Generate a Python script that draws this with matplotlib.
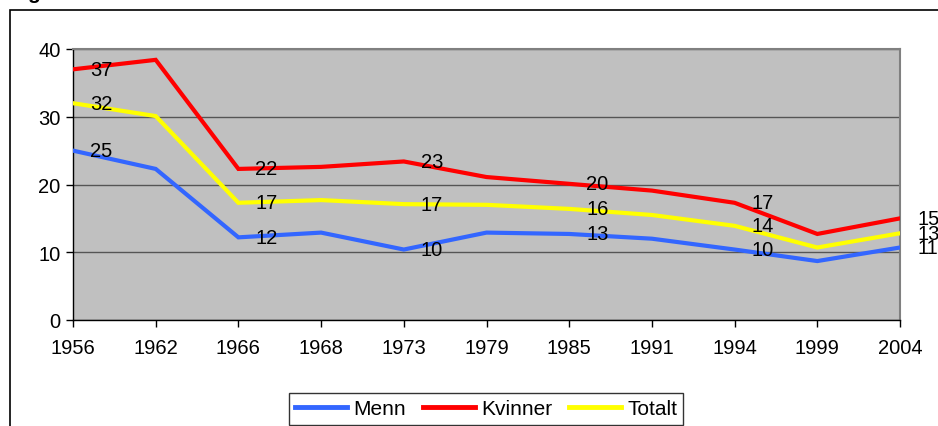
import matplotlib.pyplot as plt
from matplotlib.patches import Rectangle

plt.rcParams['font.family'] = ['Liberation Sans', 'DejaVu Sans']

years = ["1956", "1962", "1966", "1968", "1973", "1979", "1985", "1991", "1994", "1999", "2004"]
menn = [25.0, 22.3, 12.2, 12.9, 10.4, 12.9, 12.7, 12.0, 10.4, 8.7, 10.7]
kvinner = [37.0, 38.4, 22.3, 22.6, 23.4, 21.1, 20.1, 19.1, 17.3, 12.7, 15.0]
totalt = [32.0, 30.1, 17.3, 17.7, 17.1, 17.0, 16.4, 15.5, 13.9, 10.7, 12.8]

# indices of the points that carry a value label
label_idx = [0, 2, 4, 6, 8, 10]

W, H = 938, 427
fig = plt.figure(figsize=(W / 100, H / 100), dpi=100)
fig.patch.set_facecolor("white")

# outer chart border (cropped at right and bottom)
fig.patches.append(Rectangle((10 / W, -0.1), 1.2, 1 - 11 / H + 0.1,
                             transform=fig.transFigure, fill=False,
                             edgecolor="black", linewidth=1.2))
# remains of a cropped title
fig.text(27 / W, 1 + 1.5 / H, "g", fontsize=15, fontweight="bold",
         va="baseline", ha="left")

ax = fig.add_axes([73 / W, 1 - 321 / H, (900 - 73) / W, (321 - 50) / H])
ax.set_facecolor("#C0C0C0")

x = list(range(len(years)))
series = [("Menn", menn, "#3366FF"), ("Kvinner", kvinner, "#FF0000"), ("Totalt", totalt, "#FFFF00")]
for name, vals, col in series:
    ax.plot(x, vals, color=col, linewidth=3, label=name, zorder=3, solid_joinstyle="miter")

for name, vals, col in series:
    for i in label_idx:
        ax.annotate(f"{round(vals[i])}", (x[i], vals[i]), xytext=(17, 0),
                    textcoords="offset pixels", ha="left", va="center",
                    fontsize=14.5, color="black", zorder=4, annotation_clip=False)

ax.set_xlim(0, len(years) - 1)
ax.set_ylim(0, 40)
ax.set_xticks(x)
ax.set_xticklabels(years, fontsize=14.5)
ax.set_yticks([0, 10, 20, 30, 40])
ax.set_yticklabels(["0", "10", "20", "30", "40"], fontsize=14.5)
ax.tick_params(axis="both", direction="out", length=5, width=1, color="black")
ax.tick_params(axis="x", pad=8)
ax.tick_params(axis="y", pad=4)
ax.yaxis.grid(True, color="#555555", linewidth=1)
ax.set_axisbelow(True)

for s in ["left", "bottom"]:
    ax.spines[s].set_color("black")
    ax.spines[s].set_linewidth(1)
for s in ["top", "right"]:
    ax.spines[s].set_color("#808080")
    ax.spines[s].set_linewidth(1.5)

leg = fig.legend(loc="center", bbox_to_anchor=(486 / W, 1 - 410 / H), ncol=3,
                 fontsize=15, frameon=True, fancybox=False, edgecolor="black",
                 handlelength=2.5, handletextpad=0.3, columnspacing=0.8,
                 borderpad=0.3, borderaxespad=0)
leg.get_frame().set_linewidth(1)
for line in leg.get_lines():
    line.set_linewidth(3.5)

fig.savefig("out.png", dpi=100)
